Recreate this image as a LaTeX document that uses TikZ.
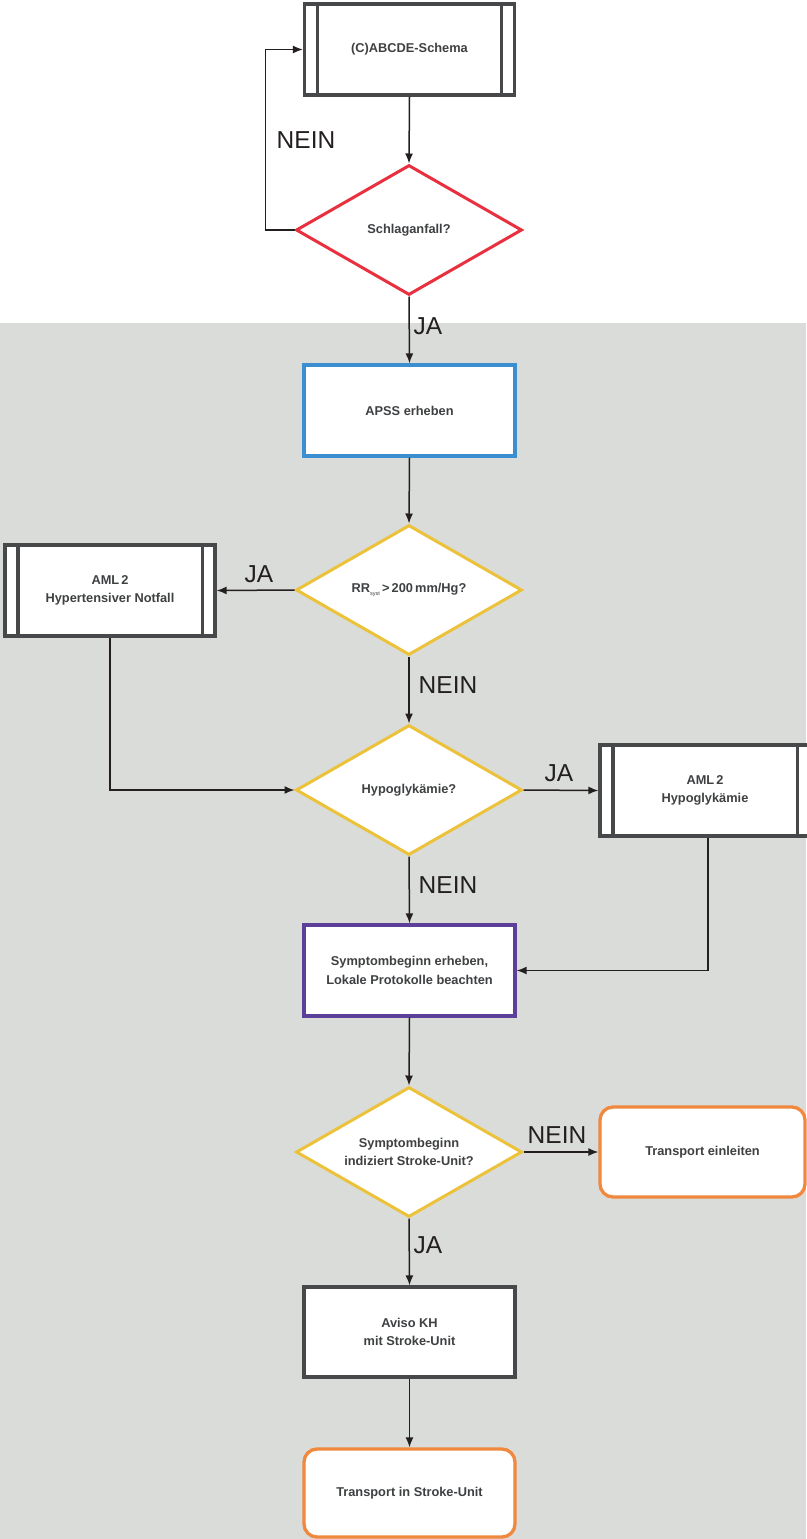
\documentclass[tikz,border=0pt]{standalone}
\usepackage{fontspec}
\setmainfont{Liberation Sans}
\usetikzlibrary{shapes.geometric,arrows.meta,calc}
\definecolor{bggray}{HTML}{DADCD9}
\definecolor{boxgray}{HTML}{46484A}
\definecolor{txtgray}{HTML}{3E4042}
\definecolor{arrowcol}{HTML}{231F20}
\definecolor{cred}{HTML}{E8303F}
\definecolor{cblue}{HTML}{3B8ED0}
\definecolor{cyellow}{HTML}{ECC23A}
\definecolor{cpurple}{HTML}{5B3F98}
\definecolor{corange}{HTML}{F0893E}
\tikzset{
  boxtext/.style={font=\fontsize{12.8}{18.5}\selectfont\bfseries, text=txtgray, align=center},
  procbox/.style={boxtext, rectangle, fill=white, draw=#1, line width=3.3pt, minimum width=211pt, minimum height=91pt, inner sep=0pt},
  subbox/.style={procbox=boxgray, minimum width=210pt},
  endbox/.style={boxtext, rectangle, rounded corners=13pt, fill=white, draw=corange, line width=3.3pt, minimum width=211pt, minimum height=89pt, inner sep=0pt},
  decision/.style={boxtext, diamond, fill=white, draw=#1, line width=3pt, minimum width=226pt, minimum height=130pt, aspect=1.74, inner sep=0pt},
  arr/.style={draw=arrowcol, line width=1.5pt, -{Latex[length=10pt,width=8pt]}},
  lbl/.style={font=\fontsize{24.5}{26}\selectfont, text=arrowcol, inner sep=0pt}
}
\begin{document}
\begin{tikzpicture}[x=1pt,y=-1pt]
\useasboundingbox (0,0) rectangle (806,1539);
\fill[white] (0,0) rectangle (806,323);
\fill[bggray] (0,323) rectangle (806,1539);

% nodes
\node[subbox] (b1) at (409.5,49.5) {(C)ABCDE-Schema};
\node[decision=cred] (d1) at (409,230) {Schlaganfall?};
\node[procbox=cblue] (apss) at (409.5,410.5) {APSS erheben};
\node[decision=cyellow] (d2) at (409,590) {RR\raisebox{-0.35ex}{\fontsize{5.5}{6}\selectfont\mdseries syst}\,>\,200\,mm/Hg?};
\node[subbox] (aml1) at (110,590.5) {AML\,2\\Hypertensiver Notfall};
\node[decision=cyellow] (d3) at (409,790) {Hypoglykämie?};
\node[subbox] (aml2) at (705,790.5) {AML\,2\\Hypoglykämie};
\node[procbox=cpurple] (sym) at (409.5,970.5) {Symptombeginn erheben,\\Lokale Protokolle beachten};
\node[decision=cyellow] (d4) at (409,1152) {Symptombeginn\\indiziert Stroke-Unit?};
\node[endbox, minimum width=205pt, minimum height=90pt] (te) at (702.5,1152) {Transport einleiten};
\node[procbox=boxgray, minimum height=90pt] (aviso) at (409.5,1332) {Aviso KH\\mit Stroke-Unit};
\node[endbox, minimum height=88pt] (tsu) at (409.5,1493) {Transport in Stroke-Unit};

% inner lines of subprocess boxes
\foreach \n in {b1,aml1,aml2}{
  \draw[boxgray, line width=3.3pt] ([xshift=14.5pt]\n.north west) -- ([xshift=14.5pt]\n.south west);
  \draw[boxgray, line width=3.3pt] ([xshift=-14.5pt]\n.north east) -- ([xshift=-14.5pt]\n.south east);
}

% connectors
\draw[arr] (b1.south) -- (d1.north);
\draw[arr] (d1.west) -- ++(-29,0) |- (b1.west);
\draw[arr] (d1.south) -- (apss.north);
\draw[arr] (apss.south) -- (d2.north);
\draw[arr] (d2.west) -- (aml1.east);
\draw[arr] (d2.south) -- (d3.north);
\draw[arr] (aml1.south) |- (d3.west);
\draw[arr] (d3.east) -- (aml2.west);
\draw[arr] (d3.south) -- (sym.north);
\draw[arr] ([xshift=3pt]aml2.south) |- (sym.east);
\draw[arr] (sym.south) -- (d4.north);
\draw[arr] (d4.east) -- (te.west);
\draw[arr] (d4.south) -- (aviso.north);
\draw[arr] (aviso.south) -- (tsu.north);

% labels
\node[lbl] (l1) at (306,140) {NEIN};
\node[lbl] (l2) at (428,326) {JA};
\node[lbl] (l3) at (259,574) {JA};
\node[lbl] (l4) at (448,685) {NEIN};
\node[lbl] (l5) at (559,773) {JA};
\node[lbl] (l6) at (448,885) {NEIN};
\node[lbl] (l7) at (557,1135) {NEIN};
\node[lbl] (l8) at (428,1245) {JA};
\end{tikzpicture}
\end{document}
